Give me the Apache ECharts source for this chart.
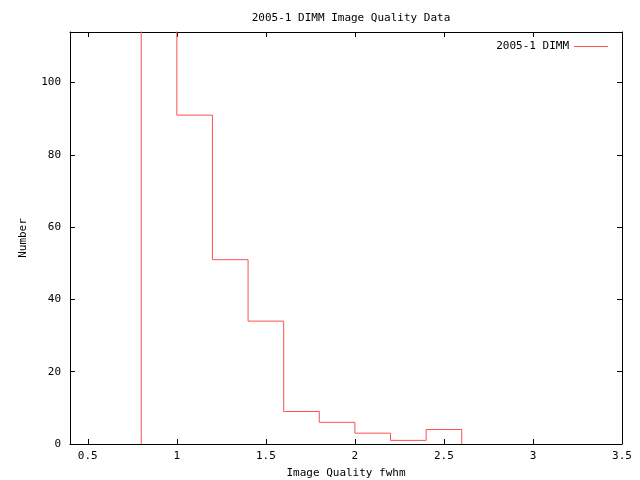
<!DOCTYPE html>
<html><head><meta charset="utf-8">
<script src="https://cdn.jsdelivr.net/npm/echarts@6/dist/echarts.min.js"></script>
<style>html,body{margin:0;padding:0;background:#fff}#c{width:640px;height:480px}</style>
</head><body><div id="c"></div>
<script>
const binEdges = [0.8, 1.0, 1.2, 1.4, 1.6, 1.8, 2.0, 2.2, 2.4, 2.6];
const counts = [140, 91, 51, 34, 9, 6, 3, 1, 4];
const xTicks = [0.5, 1, 1.5, 2, 2.5, 3, 3.5];
const yTicks = [0, 20, 40, 60, 80, 100];
const seriesName = '2005-1 DIMM';

const stepData = [[binEdges[0], 0]];
for (let i = 0; i < counts.length; i++) stepData.push([binEdges[i], counts[i]]);
stepData.push([binEdges[binEdges.length - 1], 0]);

const font = 'DejaVu Sans Mono';
const chart = echarts.init(document.getElementById('c'), null, {renderer: 'canvas'});
const xBase = {
  type: 'value', min: 0.4, max: 3.5,
  axisLine: {show: true, onZero: false, lineStyle: {color: '#000', width: 1}},
  splitLine: {show: false}
};
const yBase = {
  type: 'value', min: 0, max: 114,
  axisLine: {show: true, onZero: false, lineStyle: {color: '#000', width: 1}},
  splitLine: {show: false}
};
chart.setOption({
  animation: false,
  backgroundColor: '#fff',
  title: {text: '2005-1 DIMM Image Quality Data', left: 346, top: 8, textAlign: 'center',
    textStyle: {fontFamily: font, fontSize: 11, fontWeight: 'normal', color: '#000'}},
  legend: {show: true, right: 27, top: 36, itemWidth: 34, itemHeight: 10, itemGap: 10,
    align: 'right', icon: 'path://M0,5L34,5L34,6L0,6Z',
    textStyle: {fontFamily: font, fontSize: 11, color: '#000'},
    data: [{name: seriesName}]},
  grid: {left: 70, right: 18, top: 32, bottom: 36, containLabel: false, outerBoundsMode: 'none'},
  xAxis: [
    Object.assign({}, xBase, {position: 'bottom',
      name: 'Image Quality fwhm', nameLocation: 'middle', nameGap: 24,
      nameTextStyle: {fontFamily: font, fontSize: 11, color: '#000'},
      axisTick: {show: true, inside: true, length: 5, customValues: xTicks, lineStyle: {color: '#000'}},
      axisLabel: {show: true, customValues: xTicks, margin: 7, fontFamily: font, fontSize: 11, color: '#000'}}),
    Object.assign({}, xBase, {position: 'top',
      axisTick: {show: true, inside: true, length: 5, customValues: xTicks, lineStyle: {color: '#000'}},
      axisLabel: {show: false}})
  ],
  yAxis: [
    Object.assign({}, yBase, {position: 'left',
      name: 'Number', nameLocation: 'middle', nameGap: 41, nameRotate: 90,
      nameTextStyle: {fontFamily: font, fontSize: 11, color: '#000'},
      axisTick: {show: true, inside: true, length: 5, customValues: yTicks, lineStyle: {color: '#000'}},
      axisLabel: {show: true, customValues: yTicks, margin: 9, fontFamily: font, fontSize: 11, color: '#000'}}),
    Object.assign({}, yBase, {position: 'right',
      axisTick: {show: true, inside: true, length: 5, customValues: yTicks, lineStyle: {color: '#000'}},
      axisLabel: {show: false}})
  ],
  series: [{
    name: seriesName, type: 'line', step: 'end', data: stepData,
    xAxisIndex: 0, yAxisIndex: 0, clip: true,
    showSymbol: false, symbol: 'none',
    lineStyle: {color: '#ff5050', width: 1},
    itemStyle: {color: '#ff5050'}
  }]
});
</script></body></html>
